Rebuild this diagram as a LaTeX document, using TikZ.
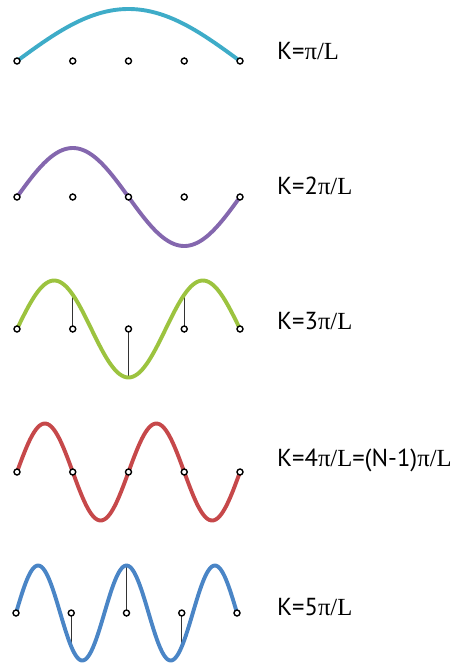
\documentclass[tikz,border=0pt]{standalone}
\usepackage{fontspec}
\newfontfamily\labfont{PT Sans}
\newfontfamily\symfont{Liberation Serif}
\definecolor{cteal}{HTML}{3EACC8}
\definecolor{cpurple}{HTML}{8467AE}
\definecolor{cgreen}{HTML}{9CC33F}
\definecolor{cred}{HTML}{C6484A}
\definecolor{cblue}{HTML}{4A85C6}
\newcommand{\pl}{{\symfont π/L}}
\begin{document}
\begin{tikzpicture}[x=1pt,y=-1pt,
  wave/.style={line width=3.9pt,line cap=round},
  dot/.style={circle,draw=black,fill=white,line width=1.4pt,inner sep=0pt,minimum size=6pt},
  stem/.style={draw=black!80,line width=1pt},
  lab/.style={anchor=west,inner sep=0pt,font=\fontsize{24.6}{29}\labfont}]
\useasboundingbox (0,0) rectangle (458,664);
% row 1
\draw[wave,cteal] plot[domain=17:240,samples=80,smooth] (\x,{61-52*sin((\x-17)/223*180)});
\foreach \i in {1,...,5} \node[dot] (r1d\i) at ({17+(\i-1)*55.75},61) {};
\node[lab] (k1) at (277,51) {K=\pl};
% row 2
\draw[wave,cpurple] plot[domain=17:240,samples=100,smooth] (\x,{197-49*sin((\x-17)/223*360)});
\foreach \i in {1,...,5} \node[dot] (r2d\i) at ({17+(\i-1)*55.75},197) {};
\node[lab] (k2) at (277,186) {K=2\pl};
% row 3
\coordinate (c32) at (72.75,294.7);
\coordinate (c33) at (128.5,377.5);
\coordinate (c34) at (184.25,294.7);
\foreach \i in {1,...,5} \coordinate (p3\i) at ({17+(\i-1)*55.75},329);
\draw[stem] (p32) -- (c32);
\draw[stem] (p33) -- (c33);
\draw[stem] (p34) -- (c34);
\draw[wave,cgreen] plot[domain=17:240,samples=120,smooth] (\x,{329-48.5*sin((\x-17)/223*540)});
\foreach \i in {1,...,5} \node[dot] (r3d\i) at (p3\i) {};
\node[lab] (k3) at (277,321) {K=3\pl};
% row 4
\draw[wave,cred] plot[domain=17:240,samples=140,smooth] (\x,{472-48.5*sin((\x-17)/223*720)});
\foreach \i in {1,...,5} \node[dot] (r4d\i) at ({17+(\i-1)*55.75},472) {};
\node[lab] (k4) at (277,460) {K=4\pl=(N-1)\pl};
% row 5
\coordinate (c52) at (71.25,646.6);
\coordinate (c53) at (126.5,565.5);
\coordinate (c54) at (181.75,646.6);
\foreach \i in {1,...,5} \coordinate (p5\i) at ({16+(\i-1)*55.25},613);
\draw[stem] (p52) -- (c52);
\draw[stem] (p53) -- (c53);
\draw[stem] (p54) -- (c54);
\draw[wave,cblue] plot[domain=16:237,samples=160,smooth] (\x,{613-47.5*sin((\x-16)/221*900)});
\foreach \i in {1,...,5} \node[dot] (r5d\i) at (p5\i) {};
\node[lab] (k5) at (277,607) {K=5\pl};
\end{tikzpicture}
\end{document}
